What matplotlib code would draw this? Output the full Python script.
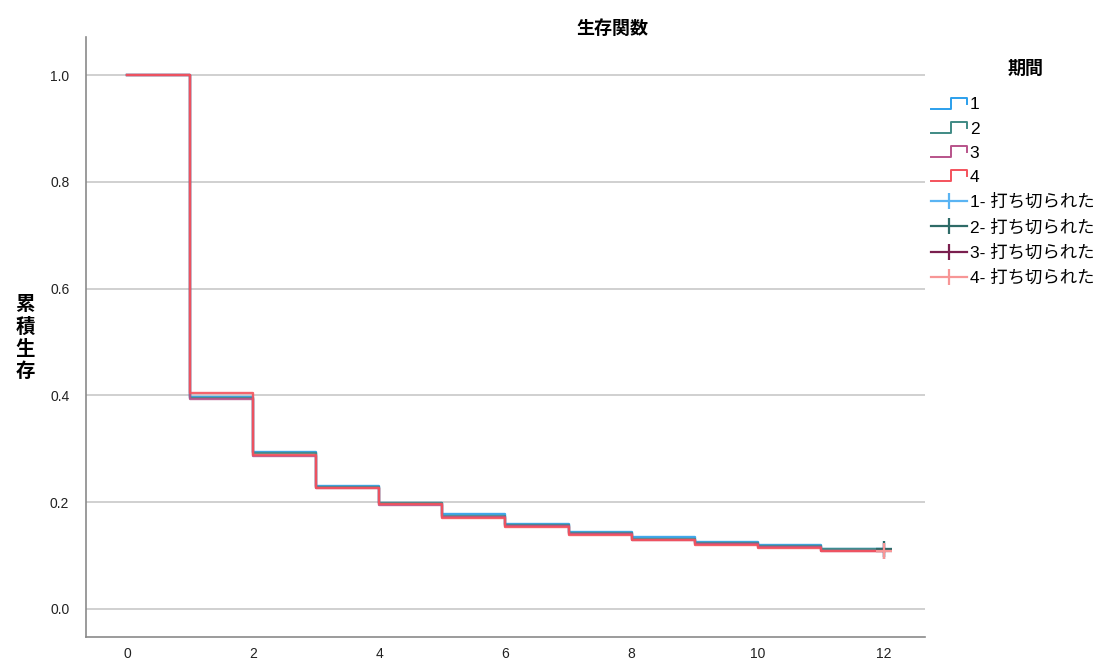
import matplotlib
matplotlib.use("Agg")
import matplotlib.pyplot as plt
from matplotlib.lines import Line2D
from matplotlib.legend_handler import HandlerBase

plt.rcParams['font.family'] = ['Liberation Sans', 'Noto Sans CJK JP', 'DejaVu Sans']

# Kaplan-Meier survival estimates by period
times = [0, 1, 2, 3, 4, 5, 6, 7, 8, 9, 10, 11, 12]
periods = ["1", "2", "3", "4"]
surv_1 = [1.0, 0.397, 0.294, 0.230, 0.199, 0.178, 0.160, 0.145, 0.134, 0.126, 0.120, 0.113]
surv_2 = [1.0, 0.396, 0.293, 0.229, 0.198, 0.175, 0.158, 0.143, 0.132, 0.124, 0.118, 0.112]
surv_3 = [1.0, 0.394, 0.287, 0.226, 0.195, 0.172, 0.155, 0.140, 0.130, 0.121, 0.116, 0.109]
surv_4 = [1.0, 0.404, 0.288, 0.227, 0.196, 0.171, 0.154, 0.139, 0.129, 0.120, 0.115, 0.108]
censor_time = 12

line_colors = ["#2b9fec", "#3f8a84", "#b8538a", "#f4525c"]
censor_colors = ["#5ab4f3", "#2e6b67", "#7a1f4f", "#f79696"]

fig = plt.figure(figsize=(11.09, 6.64), dpi=100)
ax = fig.add_axes([0.0775, 0.0407, 0.7565, 0.9033])

all_surv = [surv_1, surv_2, surv_3, surv_4]
step_handles = []
censor_handles = []
for s, lc, cc, p in zip(all_surv, line_colors, censor_colors, periods):
    ys = list(s) + [s[-1]]
    h, = ax.step(times, ys, where='post', color=lc, lw=1.7, alpha=0.9, zorder=3)
    step_handles.append(h)
    ax.plot([censor_time], [s[-1]], marker='+', color=cc, ms=12, mew=1.6,
            linestyle='none', zorder=4)
    censor_handles.append(Line2D([], [], color=cc, lw=1.6, marker='|', ms=11, mew=1.6))

ax.set_xlim(-0.65, 12.65)
ax.set_ylim(-0.0524, 1.071)
ax.set_xticks([0, 2, 4, 6, 8, 10, 12])
ax.set_yticks([0.0, 0.2, 0.4, 0.6, 0.8, 1.0])
ax.set_yticklabels(["0.0", "0.2", "0.4", "0.6", "0.8", "1.0"])
ax.tick_params(length=0, labelsize=10, colors="#222222")
ax.tick_params(axis='y', pad=12)
ax.tick_params(axis='x', pad=7)
ax.yaxis.grid(True, color="#c4c4c4", lw=1.1)
ax.set_axisbelow(True)
for side in ("top", "right"):
    ax.spines[side].set_visible(False)
for side in ("left", "bottom"):
    ax.spines[side].set_color("#8a8a8a")
    ax.spines[side].set_linewidth(1.2)

fig.text(0.552, 0.957, "生存関数", ha='center', va='center', fontsize=13,
         fontweight='bold', family=['Noto Sans CJK JP'])
fig.text(0.0225, 0.491, "累\n積\n生\n存", ha='center', va='center', fontsize=14,
         fontweight='bold', family=['Noto Sans CJK JP'], linespacing=1.2)


class StepHandler(HandlerBase):
    def create_artists(self, legend, orig_handle, xdescent, ydescent,
                       width, height, fontsize, trans):
        x0, y0 = -xdescent, -ydescent
        xm = x0 + 0.56 * width
        xs = [x0, xm, xm, x0 + width, x0 + width]
        ys = [y0 + 0.05 * height, y0 + 0.05 * height, y0 + 0.95 * height,
              y0 + 0.95 * height, y0 + 0.45 * height]
        ln = Line2D(xs, ys, color=orig_handle.get_color(), lw=1.4, transform=trans)
        return [ln]


handles = step_handles + censor_handles
labels = periods + [f"{p}- 打ち切られた" for p in periods]
handler_map = {h: StepHandler() for h in step_handles}
leg = fig.legend(handles, labels, handler_map=handler_map, loc='upper left',
                 bbox_to_anchor=(0.833, 0.864), frameon=False, fontsize=12.5,
                 handlelength=2.1, handletextpad=0.15, labelspacing=0.52,
                 numpoints=1, borderaxespad=0)
fig.text(0.925, 0.897, "期間", ha='center', va='center', fontsize=13,
         fontweight='bold', family=['Noto Sans CJK JP'])

fig.savefig("out.png", dpi=100)
